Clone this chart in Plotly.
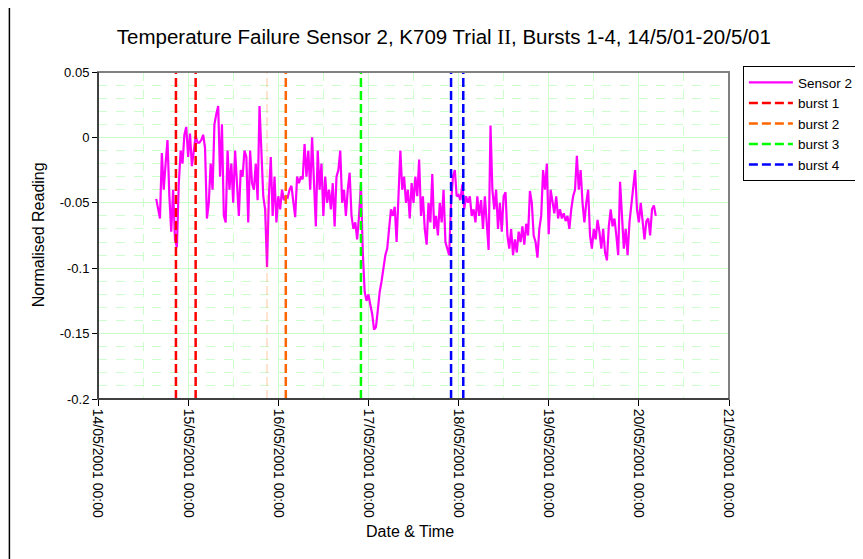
import pandas as pd
import plotly.graph_objects as go

# Sensor 2 normalised reading, half-hourly from 14/05/2001 15:30
inicio = "2001-05-14 15:30"
sensor2 = [
    -0.047, -0.055, -0.062, -0.012, -0.040, -0.020, -0.002, -0.045, -0.072, -0.040,
    -0.078, -0.084, -0.036, -0.010, -0.020, 0.002, 0.008, -0.015, 0.003, -0.022,
    -0.010, 0.001, -0.004, -0.004, -0.002, 0.002, -0.008, -0.062, -0.050, -0.020,
    -0.040, 0.010, 0.018, 0.024, -0.030, 0.010, -0.060, -0.065, -0.010, -0.040,
    -0.020, -0.050, -0.010, -0.035,
    -0.060, -0.025, -0.030, -0.010, -0.015, -0.065, -0.010, -0.035, -0.040, -0.020,
    -0.048, 0.024, -0.010, -0.045, -0.055, -0.099, -0.045, -0.015, -0.060, -0.030,
    -0.065, -0.045, -0.055, -0.040, -0.048, -0.045, -0.046, -0.040, -0.037, -0.050,
    -0.061, -0.030, -0.035, -0.030, -0.032, -0.005, -0.030, -0.010, -0.040, 0.000,
    -0.030, -0.068, -0.010, -0.040,
    -0.020, -0.060, -0.030, -0.050, -0.040, -0.055, -0.035, -0.068, -0.030, -0.025,
    -0.010, -0.050, -0.040, -0.060, -0.040, -0.027, -0.060, -0.070, -0.065, -0.078,
    -0.060, -0.036, -0.088, -0.118, -0.125, -0.120, -0.128, -0.135, -0.147, -0.145,
    -0.132, -0.118, -0.110, -0.098, -0.090, -0.085, -0.070, -0.055, -0.060, -0.053,
    -0.080, -0.045, -0.010, -0.040,
    -0.030, -0.050, -0.040, -0.062, -0.035, -0.050, -0.030, -0.045, -0.017, -0.060,
    -0.045, -0.070, -0.082, -0.050, -0.065, -0.028, -0.070, -0.060, -0.075, -0.050,
    -0.065, -0.040, -0.080, -0.085, -0.090, -0.050, -0.030, -0.025, -0.045, -0.044,
    -0.048, -0.036, -0.055, -0.045, -0.050, -0.045, -0.060, -0.055, -0.065, -0.045,
    -0.060, -0.048, -0.070, -0.045, -0.070, -0.086,
    0.009,
    -0.040, -0.055, -0.040, -0.070, -0.050, -0.072, -0.045, -0.042, -0.075, -0.085,
    -0.070, -0.090, -0.078, -0.088, -0.072, -0.080, -0.068, -0.082, -0.066, -0.075,
    -0.041, -0.050, -0.075, -0.080, -0.092, -0.070, -0.060, -0.025, -0.040, -0.020,
    -0.074, -0.040, -0.050, -0.058, -0.045, -0.062, -0.055, -0.062, -0.058, -0.064,
    -0.060, -0.070, -0.055, -0.045, -0.040,
    -0.014,
    -0.040, -0.025, -0.050, -0.065, -0.050, -0.040, -0.075, -0.085, -0.070, -0.078,
    -0.063, -0.072, -0.085, -0.070, -0.088, -0.094, -0.068, -0.055, -0.068, -0.062,
    -0.075, -0.090, -0.034, -0.060, -0.085, -0.070, -0.090, -0.065, -0.050, -0.040,
    -0.025, -0.055, -0.065, -0.050, -0.065, -0.078, -0.064, -0.062, -0.075, -0.055,
    -0.052, -0.060,
]
tiempos = pd.date_range(inicio, periods=len(sensor2), freq="30min")

# burst start / end times
bursts = ["burst 1", "burst 2", "burst 3", "burst 4"]
burst_inicio = ["2001-05-14 20:45", "2001-05-15 21:00", "2001-05-16 22:00", "2001-05-17 22:00"]
burst_fin = ["2001-05-15 02:00", "2001-05-16 02:00", "2001-05-16 22:00", "2001-05-18 01:15"]
colores = ["#FF0000", "#FF6600", "#00FF00", "#0000FF"]

y_ticks = [-0.2, -0.15, -0.1, -0.05, 0, 0.05]
y_labels = ["-0.2", "-0.15", "-0.1", "-0.05", "0", "0.05"]
y_min, y_max = -0.2, 0.05

fig = go.Figure()

fig.add_trace(go.Scatter(
    x=tiempos, y=sensor2, mode="lines", name="Sensor 2",
    line=dict(color="#FF00FF", width=2.2),
))

for nombre, ini, fin, col in zip(bursts, burst_inicio, burst_fin, colores):
    if ini == fin:
        xs, ys = [ini, ini], [y_min, y_max]
    elif nombre == "burst 2":
        # start line of burst 2 comes out very faint in the original
        fig.add_trace(go.Scatter(
            x=[ini, ini], y=[y_min, y_max], mode="lines", showlegend=False,
            line=dict(color="rgba(255,102,0,0.3)", width=1.2, dash="9px,4px"),
        ))
        xs, ys = [fin, fin], [y_min, y_max]
    else:
        xs, ys = [ini, ini, None, fin, fin], [y_min, y_max, None, y_min, y_max]
    fig.add_trace(go.Scatter(
        x=xs, y=ys, mode="lines", name=nombre,
        line=dict(color=col, width=2.5, dash="9px,4px"),
    ))

gris_verde = "#CCFFCC"

fig.update_layout(
    width=863, height=559,
    paper_bgcolor="white", plot_bgcolor="white",
    margin=dict(l=90, r=139, t=64, b=168),
    font=dict(family="Liberation Sans, Arial, sans-serif", size=12, color="black"),
    title=dict(
        text="Temperature Failure Sensor 2, K709 Trial <span style=\"font-family:'Liberation Serif'\">II</span>, Bursts 1-4, 14/5/01-20/5/01",
        x=0.505, xanchor="center", y=0.948, yanchor="middle",
        font=dict(size=20.5),
    ),
    showlegend=True,
    legend=dict(
        x=1.022, y=1.018, xanchor="left", yanchor="top",
        bordercolor="black", borderwidth=1, bgcolor="white",
        font=dict(size=13.5), tracegroupgap=0, itemwidth=44,
    ),
    xaxis=dict(
        type="date",
        range=["2001-05-14 00:00", "2001-05-21 00:00"],
        dtick=86400000, tick0="2001-05-14",
        tickformat="%d/%m/%Y %H:%M", tickangle=90,
        ticks="outside", ticklen=6, tickcolor="black",
        showgrid=True, gridcolor=gris_verde, gridwidth=1,
        minor=dict(dtick=43200000, showgrid=True, gridcolor=gris_verde, griddash="dash"),
        showline=True, linecolor="black", linewidth=1,
        zeroline=False, tickfont=dict(size=14),
    ),
    yaxis=dict(
        range=[y_min, y_max],
        tickvals=y_ticks, ticktext=y_labels,
        ticks="outside", ticklen=5, tickcolor="black",
        showgrid=True, gridcolor=gris_verde, gridwidth=1,
        minor=dict(dtick=0.01, tick0=0, showgrid=True, gridcolor=gris_verde, griddash="dash"),
        showline=True, linecolor="black", linewidth=1,
        zeroline=False, tickfont=dict(size=13),
    ),
    annotations=[
        dict(text="Normalised Reading", xref="paper", yref="paper", x=-0.0946, y=0.5015,
             xanchor="center", yanchor="middle",
             textangle=-90, showarrow=False, font=dict(size=16)),
        dict(text="Date &amp; Time", xref="paper", yref="paper", x=0.495, y=-0.4067,
             xanchor="center", yanchor="middle",
             showarrow=False, font=dict(size=16)),
    ],
    shapes=[
        dict(type="rect", xref="paper", yref="paper", x0=0, x1=1, y0=0, y1=1,
             line=dict(color="#808080", width=2), layer="above"),
        dict(type="line", xref="paper", yref="paper", x0=0, x1=0, y0=0, y1=1,
             line=dict(color="black", width=1), layer="above"),
        dict(type="line", xref="paper", yref="paper", x0=0, x1=1, y0=0, y1=0,
             line=dict(color="#404040", width=2), layer="above"),
        dict(type="line", xref="paper", yref="paper", x0=-0.1404, x1=-0.1404, y0=-0.6, y1=1.3,
             line=dict(color="black", width=1.5), layer="above"),
    ],
)

fig.write_html("out.html")
